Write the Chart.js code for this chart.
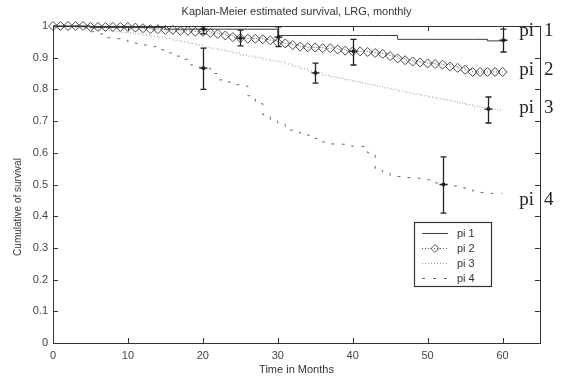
<!DOCTYPE html>
<html><head><meta charset="utf-8">
<script src="https://cdn.jsdelivr.net/npm/chart.js@4/dist/chart.umd.min.js"></script>
<style>html,body{margin:0;padding:0;background:#fff}#wrap{width:561px;height:382px}</style>
</head><body><div id="wrap"><canvas id="c" width="561" height="382"></canvas></div>
<script>
const chartTitle = 'Kaplan-Meier estimated survival, LRG, monthly';
const xTitle = 'Time in Months';
const yTitle = 'Cumulative of survival';
const seriesNames = ['pi 1', 'pi 2', 'pi 3', 'pi 4'];
const months = [0,1,2,3,4,5,6,7,8,9,10,11,12,13,14,15,16,17,18,19,20,21,22,23,24,25,26,27,28,29,30,31,32,33,34,35,36,37,38,39,40,41,42,43,44,45,46,47,48,49,50,51,52,53,54,55,56,57,58,59,60];
const pi1 = [1,1,1,1,1,0.995,0.995,0.995,0.995,0.995,0.995,0.995,0.995,0.995,0.995,0.99,0.99,0.99,0.99,0.99,0.99,0.99,0.99,0.99,0.99,0.99,0.99,0.99,0.99,0.99,0.97,0.97,0.97,0.97,0.97,0.97,0.97,0.97,0.97,0.97,0.97,0.97,0.97,0.97,0.97,0.97,0.958,0.958,0.958,0.958,0.958,0.958,0.958,0.958,0.958,0.958,0.958,0.958,0.953,0.953,0.953];
const pi2 = [1,1,1,1,1,0.997,0.997,0.997,0.997,0.997,0.997,0.995,0.993,0.99,0.99,0.988,0.988,0.985,0.985,0.982,0.982,0.978,0.975,0.97,0.965,0.962,0.96,0.96,0.958,0.955,0.948,0.945,0.94,0.935,0.933,0.932,0.93,0.93,0.926,0.922,0.92,0.92,0.918,0.915,0.912,0.905,0.898,0.892,0.888,0.885,0.882,0.88,0.878,0.872,0.868,0.862,0.855,0.855,0.855,0.855,0.855];
const pi3 = [1,1,0.998,0.995,0.993,0.99,0.988,0.985,0.982,0.98,0.978,0.975,0.972,0.968,0.965,0.96,0.955,0.95,0.945,0.94,0.933,0.93,0.925,0.92,0.915,0.908,0.905,0.9,0.895,0.89,0.887,0.88,0.872,0.865,0.858,0.852,0.845,0.84,0.835,0.83,0.825,0.82,0.815,0.81,0.805,0.8,0.795,0.79,0.785,0.78,0.776,0.772,0.767,0.762,0.757,0.752,0.747,0.743,0.738,0.735,0.735];
const pi4 = [1,1,1,1,0.995,0.982,0.975,0.963,0.96,0.955,0.95,0.945,0.94,0.935,0.925,0.915,0.905,0.895,0.877,0.87,0.867,0.85,0.83,0.823,0.815,0.81,0.78,0.755,0.72,0.7,0.693,0.672,0.665,0.66,0.655,0.645,0.634,0.628,0.627,0.622,0.62,0.62,0.6,0.545,0.535,0.527,0.525,0.522,0.52,0.517,0.515,0.505,0.5,0.495,0.49,0.483,0.48,0.475,0.472,0.472,0.472];
// error bars: series index, time, estimate, lower, upper
const errSeries = [0, 0, 0, 1, 1, 2, 2, 3, 3];
const errTime   = [20, 30, 60, 25, 40, 35, 58, 20, 52];
const errMid    = [0.99, 0.965, 0.955, 0.962, 0.92, 0.852, 0.738, 0.867, 0.5];
const errLow    = [0.975, 0.935, 0.918, 0.937, 0.877, 0.82, 0.694, 0.8, 0.41];
const errHigh   = [0.998, 0.997, 0.99, 0.987, 0.958, 0.883, 0.776, 0.93, 0.587];
const xTicks = [0, 10, 20, 30, 40, 50, 60];
const yTicks = [0, 0.1, 0.2, 0.3, 0.4, 0.5, 0.6, 0.7, 0.8, 0.9, 1];
const sideLabelY = [0.985, 0.862, 0.742, 0.45]; // value level where right labels sit

const seriesData = [pi1, pi2, pi3, pi4];
const styles = [
  {color:'#3a3a3a', dash:[], width:1, point:0},
  {color:'#555555', dash:[1,2], width:1, point:4.5},
  {color:'#9a9a9a', dash:[1,2], width:1, point:0},
  {color:'#6a6a6a', dash:[3,8], width:1, point:0}
];
const datasets = seriesData.map((arr, i) => ({
  label: seriesNames[i],
  data: months.map((m, k) => ({x: m, y: arr[k]})),
  borderColor: styles[i].color,
  borderWidth: styles[i].width,
  borderDash: styles[i].dash,
  stepped: 'before',
  pointRadius: styles[i].point,
  pointStyle: 'rectRot',
  pointBorderColor: '#4a4a4a',
  pointBorderWidth: 1,
  pointBackgroundColor: 'rgba(0,0,0,0)',
  clip: false,
  fill: false
}));

const FONT = '"Liberation Sans", Arial, sans-serif';
const decor = {
  id: 'decor',
  afterDatasetsDraw(chart) {
    const ctx = chart.ctx, a = chart.chartArea;
    const xs = chart.scales.x, ys = chart.scales.y;
    ctx.save();
    ctx.strokeStyle = '#333'; ctx.lineWidth = 1; ctx.setLineDash([]);
    ctx.strokeRect(Math.round(a.left) + 0.5, Math.round(a.top) + 0.5, Math.round(a.right - a.left), Math.round(a.bottom - a.top));
    ctx.beginPath();
    xTicks.forEach(v => {
      const px = Math.round(xs.getPixelForValue(v)) + 0.5;
      ctx.moveTo(px, a.bottom); ctx.lineTo(px, a.bottom - 5);
      ctx.moveTo(px, a.top); ctx.lineTo(px, a.top + 5);
    });
    yTicks.forEach(v => {
      const py = Math.round(ys.getPixelForValue(v)) + 0.5;
      ctx.moveTo(a.left, py); ctx.lineTo(a.left + 5, py);
      ctx.moveTo(a.right, py); ctx.lineTo(a.right - 5, py);
    });
    ctx.stroke();
    ctx.strokeStyle = '#222'; ctx.fillStyle = '#222'; ctx.lineWidth = 1.3;
    errTime.forEach((t, i) => {
      const px = Math.round(xs.getPixelForValue(t)) + 0.5;
      const pl = ys.getPixelForValue(errLow[i]), ph = ys.getPixelForValue(errHigh[i]), pm = ys.getPixelForValue(errMid[i]);
      ctx.beginPath();
      ctx.moveTo(px, ph); ctx.lineTo(px, pl);
      ctx.moveTo(px - 3, ph); ctx.lineTo(px + 3, ph);
      ctx.moveTo(px - 3, pl); ctx.lineTo(px + 3, pl);
      ctx.moveTo(px - 4, pm); ctx.lineTo(px + 4, pm);
      ctx.stroke();
      ctx.beginPath(); ctx.arc(px, pm, 2, 0, Math.PI * 2); ctx.fill();
    });
    ctx.fillStyle = '#333';
    ctx.font = '11px ' + FONT; ctx.textAlign = 'center'; ctx.textBaseline = 'middle';
    ctx.fillText(chartTitle, (a.left + a.right) / 2, 12);
    ctx.fillText(xTitle, (a.left + a.right) / 2, 370);
    ctx.save();
    ctx.translate(18, 207); ctx.rotate(-Math.PI / 2);
    ctx.font = '10px ' + FONT;
    ctx.fillText(yTitle, 0, 0);
    ctx.restore();
    ctx.font = '19px "Liberation Serif", "Times New Roman", serif';
    ctx.fillStyle = '#222'; ctx.textBaseline = 'middle';
    seriesNames.forEach((n, i) => {
      const py = ys.getPixelForValue(sideLabelY[i]);
      const parts = n.split(' ');
      ctx.textAlign = 'right'; ctx.fillText(parts[0], a.right - 6, py);
      ctx.textAlign = 'left'; ctx.fillText(parts[1], a.right + 4, py);
    });
    const lx = 414, ly = 222, lw = 77, lh = 64;
    ctx.fillStyle = '#fff'; ctx.fillRect(lx, ly, lw, lh);
    ctx.strokeStyle = '#333'; ctx.lineWidth = 1.2; ctx.setLineDash([]);
    ctx.strokeRect(lx + 0.5, ly + 0.5, lw, lh);
    ctx.font = '11px ' + FONT; ctx.textAlign = 'left'; ctx.textBaseline = 'middle';
    seriesNames.forEach((n, i) => {
      const y = ly + 11 + i * 15 + 0.5;
      ctx.strokeStyle = styles[i].color; ctx.lineWidth = 1; ctx.setLineDash(styles[i].dash);
      ctx.beginPath(); ctx.moveTo(422, y); ctx.lineTo(448, y); ctx.stroke();
      ctx.setLineDash([]);
      if (styles[i].point) {
        ctx.strokeStyle = '#555';
        ctx.beginPath(); ctx.moveTo(435, y - 4); ctx.lineTo(439, y); ctx.lineTo(435, y + 4); ctx.lineTo(431, y); ctx.closePath(); ctx.stroke();
      }
      ctx.fillStyle = '#333';
      ctx.fillText(n, 457, y);
    });
    ctx.restore();
  }
};

new Chart(document.getElementById('c'), {
  type: 'line',
  data: { datasets },
  options: {
    responsive: false, animation: false, devicePixelRatio: 1,
    layout: { padding: { top: 26, right: 21, left: 0, bottom: 0 } },
    plugins: { legend: { display: false }, tooltip: { enabled: false }, title: { display: false } },
    scales: {
      x: {
        type: 'linear', min: 0, max: 65,
        afterBuildTicks: s => { s.ticks = xTicks.map(v => ({ value: v })); },
        afterFit: s => { s.height = 39; },
        grid: { display: false, drawTicks: false }, border: { display: false },
        ticks: { color: '#444', font: { family: FONT, size: 11 }, padding: 6, maxRotation: 0, callback: v => String(v) }
      },
      y: {
        type: 'linear', min: 0, max: 1,
        afterBuildTicks: s => { s.ticks = yTicks.map(v => ({ value: v })); },
        afterFit: s => { s.width = 53; },
        grid: { display: false, drawTicks: false }, border: { display: false },
        ticks: { color: '#444', font: { family: FONT, size: 11 }, padding: 5, callback: v => String(+Number(v).toFixed(1)) }
      }
    }
  },
  plugins: [decor]
});
</script>
</body></html>
